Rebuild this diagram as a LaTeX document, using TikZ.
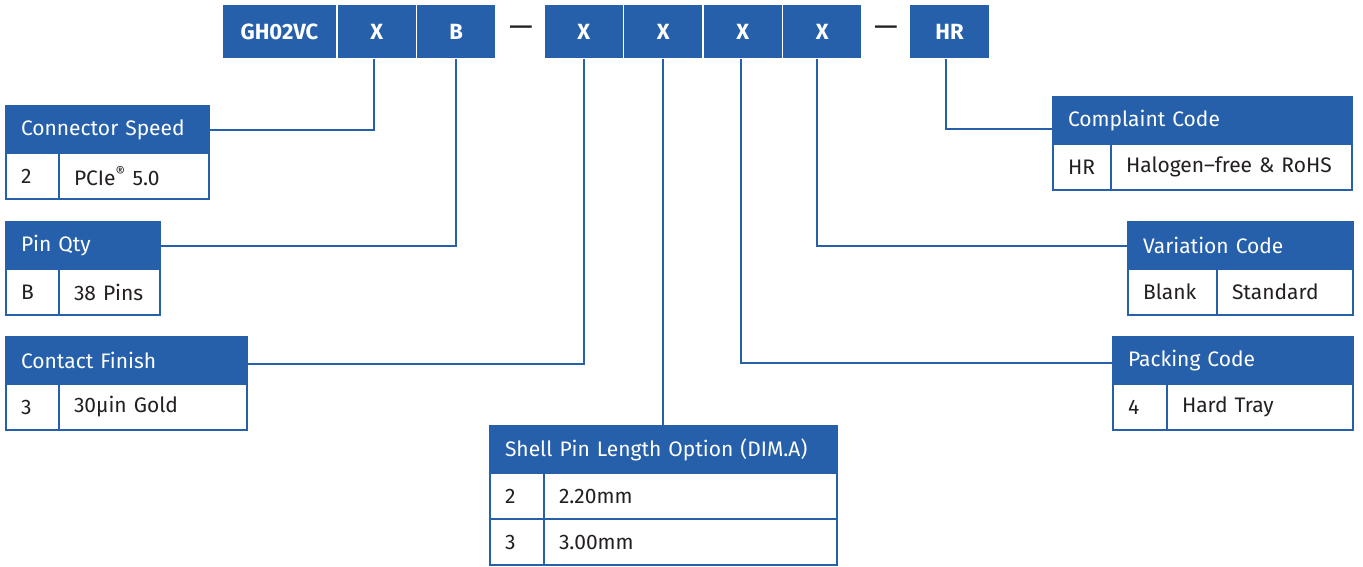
\documentclass[tikz,border=0pt]{standalone}
\usepackage{fontspec}
\setmainfont{Fira Sans}
\usepackage{tikz}
\usetikzlibrary{positioning}
\definecolor{pnblue}{RGB}{38,96,171}
\definecolor{pntext}{RGB}{35,31,32}

\begin{document}
\begin{tikzpicture}[x=1pt, y=-1pt, font=\fontsize{21}{25}\selectfont,
  seg/.style={rectangle, fill=pnblue, draw=white, line width=1.8pt, minimum width=79.5pt, minimum height=55pt,
    text=white, font=\fontsize{22}{26}\selectfont\bfseries, inner sep=0pt, outer sep=0pt},
  hdr/.style={rectangle, fill=pnblue, draw=pnblue, line width=2pt, text=white, minimum height=47pt,
    inner xsep=15pt, inner ysep=0pt, outer sep=0pt, anchor=north west, align=left, text width=#1},
  cell/.style={rectangle, fill=white, draw=pnblue, line width=2pt, text=pntext, minimum height=46pt,
    inner xsep=15pt, inner ysep=0pt, outer sep=0pt, anchor=north west, align=left, text width=#1},
  lead/.style={draw=pnblue, line width=2pt}]
\useasboundingbox (0,0) rectangle (1363,566);

% part number bar
\node[seg, minimum width=115pt] (base) at (279.5,31.5) {GH02VC};
\node[seg, right=0pt of base] (spd) {X};
\node[seg, right=0pt of spd] (pin) {B};
\node[seg, right=48pt of pin] (fin) {X};
\node[seg, right=0pt of fin] (len) {X};
\node[seg, right=0pt of len] (pack) {X};
\node[seg, right=0pt of pack] (var) {X};
\node[seg, minimum width=81pt, right=47pt of var] (rohs) {HR};
\node[text=pntext, font=\fontsize{30}{32}\selectfont] (dashA) at (521,31) {—};
\node[text=pntext, font=\fontsize{30}{32}\selectfont] (dashB) at (886,31) {—};

% left tables
\node[hdr=173pt] (spdhdr) at (6,106) {Connector Speed};
\node[cell=23pt] (spdkey) at (spdhdr.south west) {2};
\node[cell=120pt] (spdval) at (spdkey.north east) {PCIe\textsuperscript{®} 5.0};

\node[hdr=124pt] (pinhdr) at (6,222) {Pin Qty};
\node[cell=23pt] (pinkey) at (pinhdr.south west) {B};
\node[cell=71pt] (pinval) at (pinkey.north east) {38 Pins};

\node[hdr=211pt] (finhdr) at (6,337) {Contact Finish};
\node[cell=23pt] (finkey) at (finhdr.south west) {3};
\node[cell=158pt] (finval) at (finkey.north east) {30µin Gold};

% bottom table
\node[hdr=317pt] (lenhdr) at (490,426) {Shell Pin Length Option (DIM.A)};
\node[cell=24pt] (lenkeyA) at (lenhdr.south west) {2};
\node[cell=263pt] (lenvalA) at (lenkeyA.north east) {2.20mm};
\node[cell=24pt] (lenkeyB) at (lenkeyA.south west) {3};
\node[cell=263pt] (lenvalB) at (lenkeyB.north east) {3.00mm};

% right tables
\node[hdr=269pt] (rohshdr) at (1053,97) {Complaint Code};
\node[cell=28pt] (rohskey) at (rohshdr.south west) {HR};
\node[cell=211pt] (rohsval) at (rohskey.north east) {Halogen–free \& RoHS};

\node[hdr=195pt] (varhdr) at (1128,222) {Variation Code};
\node[cell=59pt] (varkey) at (varhdr.south west) {Blank};
\node[cell=106pt] (varval) at (varkey.north east) {Standard};

\node[hdr=210pt] (packhdr) at (1113,337) {Packing Code};
\node[cell=24pt] (packkey) at (packhdr.south west) {4};
\node[cell=156pt] (packval) at (packkey.north east) {Hard Tray};

% leaders
\draw[lead] ([xshift=-3pt]spd.south) |- (spdhdr.east);
\draw[lead] (pin.south) |- (pinhdr.east);
\draw[lead] (fin.south) |- ([yshift=-3pt]finhdr.east);
\draw[lead] (len.south) -- (len.south |- lenhdr.north);
\draw[lead] ([xshift=-2pt]pack.south) |- ([yshift=-2pt]packhdr.west);
\draw[lead] ([xshift=-5pt]var.south) |- (varhdr.west);
\draw[lead] ([xshift=-4pt]rohs.south) |- ([yshift=-8pt]rohshdr.west);
\end{tikzpicture}
\end{document}
